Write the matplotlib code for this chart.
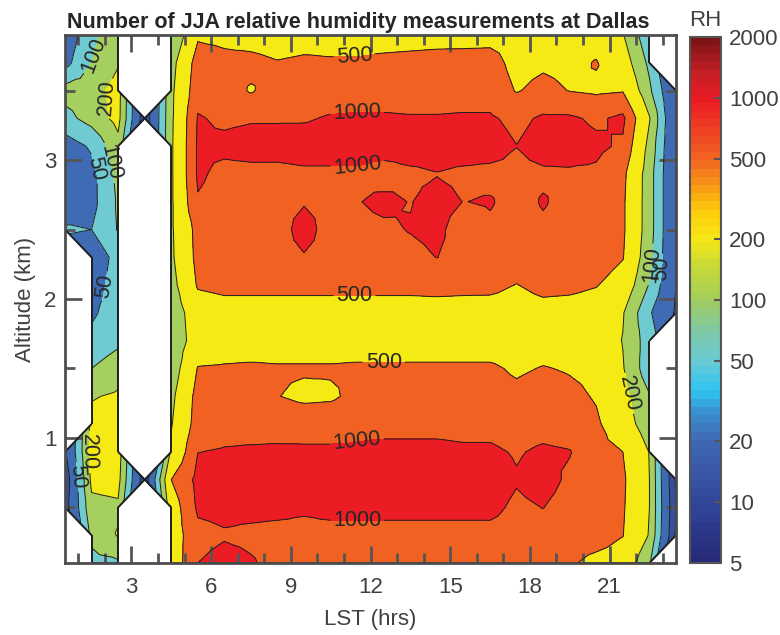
import numpy as np
import matplotlib
matplotlib.use("Agg")
from matplotlib import pyplot as plt
from matplotlib.tri import Triangulation
from matplotlib.collections import LineCollection
from matplotlib.colors import LinearSegmentedColormap, LogNorm
from matplotlib.cm import ScalarMappable

plt.rcParams['font.family'] = ['Liberation Sans', 'DejaVu Sans']

nan = np.nan

# hour bins (LST) and altitude bins (km)
hours = [0.5, 1.5, 2.5, 3.5, 4.5, 5.5, 6.5, 7.5, 8.5, 9.5, 10.5, 11.5,
         12.5, 13.5, 14.5, 15.5, 16.5, 17.5, 18.5, 19.5, 20.5, 21.5, 22.5, 23.5]
alts_top_down = [3.9, 3.7, 3.5, 3.3, 3.1, 2.9, 2.7, 2.5, 2.3, 2.1,
                 1.9, 1.7, 1.5, 1.3, 1.1, 0.9, 0.7, 0.5, 0.3, 0.1]

# number of measurements, one list per hour bin, altitude from 3.9 km down to 0.1 km
h00 = [30, 40, 130, 80, 35, 25, 28, 55, nan, nan, nan, nan, nan, nan, nan, 18, 12, 14, nan, nan]
h01 = [85, 100, 150, 130, 55, 40, 40, 50, 30, 35, 45, 60, 100, 190, 250, 260, 230, 170, 120, 80]
h02 = [150, 190, 260, 250, 160, 120, 110, 105, 65, 70, 70, 85, 150, 220, 280, 280, 250, 180, 210, 90]
h03 = [nan, nan, nan, 12, nan, nan, nan, nan, nan, nan, nan, nan, nan, nan, nan, nan, 12, nan, nan, nan]
h04 = [95, 150, 170, 175, 180, 180, 180, 180, 175, 150, 120, 115, 125, 165, 190, 230, 500, 330, 320, 300]
h05 = [450, 700, 800, 1050, 1100, 1100, 950, 650, 620, 540, 330, 300, 520, 650, 700, 990, 1200, 1100, 850, 1000]
h06 = [420, 600, 700, 900, 1150, 850, 800, 800, 780, 600, 370, 340, 540, 650, 800, 1050, 1300, 1150, 950, 1200]
h07 = [380, 600, 470, 950, 1250, 850, 800, 800, 780, 600, 370, 340, 560, 650, 800, 1080, 1300, 1150, 900, 1050]
h08 = [350, 520, 700, 950, 1250, 850, 800, 750, 780, 600, 370, 340, 540, 510, 800, 1100, 1300, 1150, 850, 850]
h09 = [380, 560, 750, 950, 1300, 900, 950, 1300, 950, 600, 370, 340, 540, 430, 780, 1100, 1300, 1080, 850, 780]
h10 = [380, 540, 750, 1050, 1300, 900, 850, 750, 780, 600, 370, 340, 540, 450, 780, 1100, 1350, 1150, 850, 780]
h11 = [380, 540, 750, 1080, 1300, 900, 970, 850, 780, 600, 370, 340, 560, 600, 850, 1100, 1350, 1150, 850, 780]
h12 = [380, 580, 750, 1080, 1300, 780, 1150, 900, 800, 600, 370, 340, 560, 680, 850, 1150, 1350, 1150, 850, 780]
h13 = [390, 600, 750, 1050, 1300, 900, 980, 1030, 850, 600, 370, 340, 560, 680, 850, 1150, 1350, 1150, 850, 780]
h14 = [400, 620, 750, 1050, 1300, 980, 1200, 1150, 1010, 620, 370, 340, 560, 680, 850, 1150, 1350, 1150, 850, 780]
h15 = [400, 630, 750, 1080, 1300, 900, 990, 750, 800, 600, 370, 340, 560, 680, 830, 1100, 1300, 1150, 850, 780]
h16 = [400, 650, 750, 1080, 1300, 850, 1050, 900, 780, 600, 360, 340, 560, 680, 830, 1100, 1300, 1150, 850, 780]
h17 = [380, 400, 480, 850, 1010, 850, 800, 800, 750, 490, 340, 320, 450, 600, 750, 950, 1050, 900, 800, 750]
h18 = [400, 450, 600, 1100, 1300, 900, 1050, 900, 800, 620, 380, 350, 520, 700, 800, 1100, 1250, 1010, 800, 720]
h19 = [380, 420, 490, 1100, 1300, 920, 820, 800, 780, 600, 360, 330, 470, 600, 720, 1030, 900, 800, 750, 550]
h20 = [380, 520, 450, 900, 1150, 900, 800, 780, 750, 520, 330, 300, 420, 470, 560, 650, 650, 650, 700, 400]
h21 = [210, 300, 480, 1150, 900, 600, 560, 560, 520, 350, 210, 195, 210, 250, 300, 500, 560, 540, 510, 350]
h22 = [60, 85, 115, 210, 160, 135, 135, 135, 120, 95, 55, 70, 65, 105, 130, 195, 200, 200, 190, 110]
h23 = [nan, nan, 20, 20, 20, 20, 20, 20, 20, 20, 18, nan, nan, nan, nan, nan, 9, 10, 9, nan]

levels = [5, 10, 20, 50, 100, 200, 500, 1000, 2000]
band_colors = ['#2A3787', '#34509E', '#3F6BB4', '#6FCBD1',
               '#A5D05F', '#F5EA14', '#F16122', '#EC1C24']
cbar_ticks = [5, 10, 20, 50, 100, 200, 500, 1000, 2000]

# colour bar map, log positions between 5 and 2000
cmap_vals = [5, 10, 20, 27, 35, 50, 70, 100, 150, 200, 280, 500, 1000, 1400, 2000]
cmap_cols = ['#262A78', '#33489C', '#3F6AB3', '#3A8ED0', '#2EC4F1', '#6BCAD3', '#7FC8A6',
             '#A2CD5C', '#C9DA36', '#F5E816', '#FDCB0B', '#F26622', '#EC1C24', '#C31F26', '#7F1416']

title = 'Number of JJA relative humidity measurements at Dallas'

# label anchor points for the contour labels
label_pos = [(11.4, 3.73), (11.5, 3.33), (11.5, 2.98), (11.4, 2.0), (12.5, 1.53),
             (11.5, 0.97), (11.5, 0.37), (1.7, 3.75), (2.1, 3.45), (2.2, 2.98),
             (1.5, 2.93), (1.8, 2.1), (1.5, 0.9), (0.9, 0.72), (22.5, 2.25),
             (22.85, 2.22), (21.7, 1.32)]

cols = [h00, h01, h02, h03, h04, h05, h06, h07, h08, h09, h10, h11,
        h12, h13, h14, h15, h16, h17, h18, h19, h20, h21, h22, h23]
counts = np.array(cols, dtype=float).T[::-1]   # rows: bottom -> top
alts = np.array(alts_top_down)[::-1]
z = np.log10(counts)

# build a triangulation that keeps partially valid cells (like matlab does)
ny, nx = z.shape
px, py, pz = [], [], []
for i in range(ny):
    for j in range(nx):
        px.append(hours[j])
        py.append(alts[i])
        pz.append(z[i, j])
tris = []
for i in range(ny - 1):
    for j in range(nx - 1):
        corners = [i * nx + j, i * nx + j + 1, (i + 1) * nx + j + 1, (i + 1) * nx + j]
        ok = [c for c in corners if np.isfinite(pz[c])]
        if len(ok) == 4:
            k = len(px)
            px.append(hours[j] + 0.5)
            py.append(alts[i] + 0.1)
            pz.append(np.mean([pz[c] for c in corners]))
            for a in range(4):
                tris.append([corners[a], corners[(a + 1) % 4], k])
        elif len(ok) == 3:
            tris.append(ok)
pz = np.array(pz)
pz[~np.isfinite(pz)] = 1.0  # unused points
tri = Triangulation(px, py, tris)

# outline of the valid data region
edge_count = {}
for t in tris:
    for a in range(3):
        e = tuple(sorted((t[a], t[(a + 1) % 3])))
        edge_count[e] = edge_count.get(e, 0) + 1
segs = [[(px[a], py[a]), (px[b], py[b])] for (a, b), n in edge_count.items() if n == 1]

fig = plt.figure(figsize=(7.8, 6.35), dpi=100)
ax = fig.add_axes([65 / 780, 1 - 563 / 635, 611 / 780, 528 / 635])

loglev = np.log10(levels)
ax.tricontourf(tri, pz, levels=loglev, colors=band_colors)
cl = ax.tricontour(tri, pz, levels=loglev, colors='#1e1e1e', linewidths=0.7)
ax.add_collection(LineCollection(segs, colors='#1e1e1e', linewidths=1.4))

fmt = {lv: str(v) for lv, v in zip(cl.levels, levels)}
ax.clabel(cl, fmt=fmt, fontsize=15.5, colors='#262626', inline=True,
          manual=label_pos, inline_spacing=3)

ax.set_xlim(0.5, 23.5)
ax.set_ylim(0.1, 3.9)
ax.set_xticks([3, 6, 9, 12, 15, 18, 21])
ax.set_xticks([h for h in range(1, 24) if h % 3], minor=True)
ax.set_yticks([1, 2, 3])
ax.set_yticks([0.5, 1.5, 2.5, 3.5], minor=True)
ax.tick_params(which='both', direction='in', top=True, right=True,
               color='#555555', width=2, labelsize=16, labelcolor='#404040')
ax.tick_params(which='major', length=12)
ax.tick_params(which='minor', length=7)
ax.tick_params(axis='x', pad=10)
ax.tick_params(axis='y', pad=6)
for s in ax.spines.values():
    s.set_linewidth(2)
    s.set_color('#4d4d4d')
ax.set_xlabel('LST (hrs)', fontsize=16, color='#404040', labelpad=8)
ax.set_ylabel('Altitude (km)', fontsize=16, color='#404040', labelpad=6)

fig.text(67 / 780, 1 - 28 / 635, title, fontsize=15.5, fontweight='bold',
         color='#262626', ha='left', va='baseline')

# colour bar
cmap = LinearSegmentedColormap.from_list(
    'rh', [((np.log10(v) - np.log10(5)) / (np.log10(2000) - np.log10(5)), c)
           for v, c in zip(cmap_vals, cmap_cols)], N=64)
cax = fig.add_axes([690 / 780, 1 - 563 / 635, 31 / 780, 526 / 635])
sm = ScalarMappable(norm=LogNorm(5, 2000), cmap=cmap)
cb = fig.colorbar(sm, cax=cax)
cb.set_ticks(cbar_ticks)
cb.set_ticklabels([str(t) for t in cbar_ticks])
cb.minorticks_off()
cax.tick_params(direction='in', length=5, width=1.5, color='#555555',
                labelsize=16, labelcolor='#404040', pad=6)
cb.outline.set_edgecolor('#555555')
cb.outline.set_linewidth(1.5)
cax.set_title('RH', fontsize=16, color='#404040', pad=8)

fig.savefig('out.png', dpi=100, facecolor='white')
